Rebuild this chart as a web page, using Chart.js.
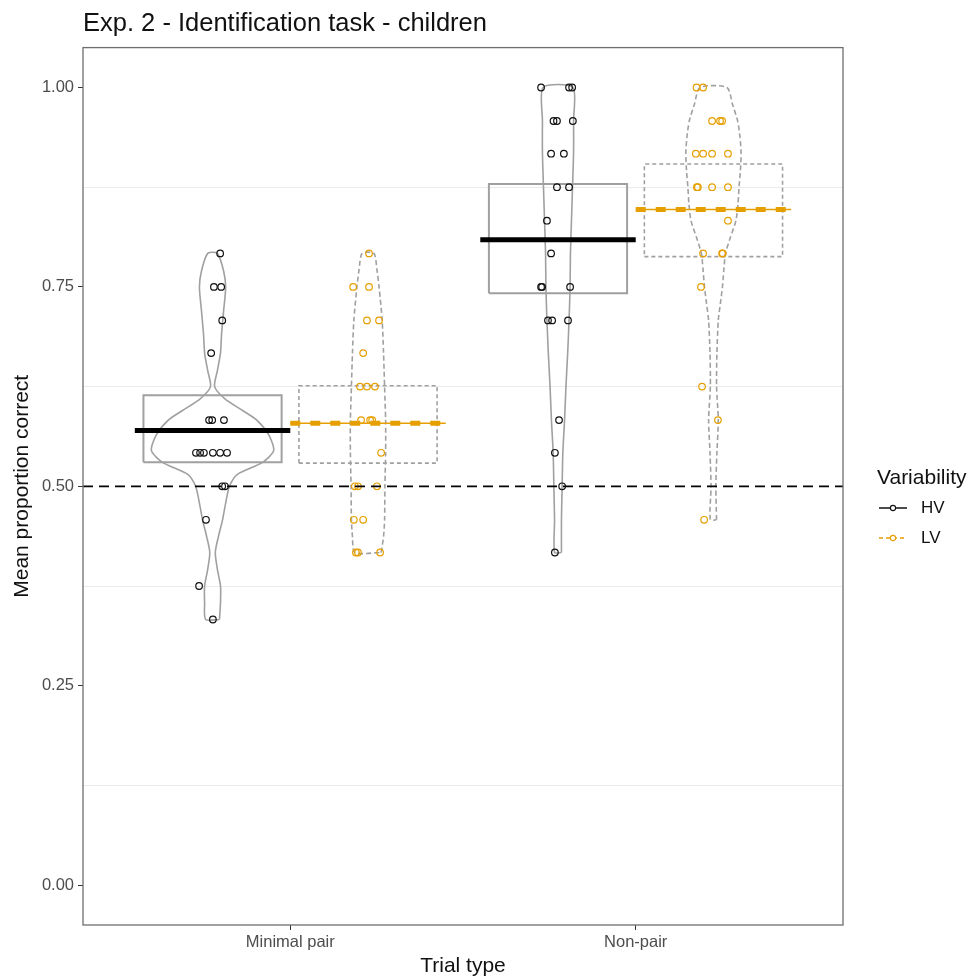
<!DOCTYPE html>
<html>
<head>
<meta charset="utf-8">
<title>Exp. 2 - Identification task - children</title>
<script src="https://cdn.jsdelivr.net/npm/chart.js@4.4.1/dist/chart.umd.min.js"></script>
<style>
  html, body { margin: 0; padding: 0; background: #fff; }
  #wrap { width: 971px; height: 980px; }
</style>
</head>
<body>
<div id="wrap"><canvas id="graph"></canvas></div>
<script>
// categories and axis ticks
var trialTypes = ['Minimal pair', 'Non-pair'];
var variability = ['HV', 'LV'];
var yTicks = [0, 0.25, 0.5, 0.75, 1];
var yMinorTicks = [0.125, 0.375, 0.625, 0.875];
var chanceLevel = 0.5;

// one dot per child: proportion correct, plus its horizontal jitter
var hvMinimalY = [0.792, 0.75, 0.75, 0.708, 0.667, 0.583, 0.583, 0.583, 0.542, 0.542, 0.542, 0.542, 0.542, 0.542, 0.5, 0.5, 0.458, 0.375, 0.333];
var hvMinimalJitter = [0.022, 0.004, 0.025, 0.028, -0.004, -0.010, -0.001, 0.033, -0.048, -0.036, -0.025, 0.001, 0.022, 0.042, 0.028, 0.036, -0.019, -0.039, 0.001];
var lvMinimalY = [0.792, 0.75, 0.75, 0.708, 0.708, 0.667, 0.625, 0.625, 0.625, 0.583, 0.583, 0.583, 0.542, 0.5, 0.5, 0.5, 0.458, 0.458, 0.417, 0.417, 0.417];
var lvMinimalJitter = [0.003, -0.043, 0.003, -0.003, 0.032, -0.014, -0.023, -0.003, 0.020, -0.020, 0.006, 0.012, 0.038, -0.038, -0.029, 0.026, -0.041, -0.014, -0.035, -0.029, 0.035];
var hvNonPairY = [1, 1, 1, 0.958, 0.958, 0.958, 0.917, 0.917, 0.875, 0.875, 0.833, 0.792, 0.75, 0.75, 0.75, 0.708, 0.708, 0.708, 0.583, 0.542, 0.5, 0.417];
var hvNonPairJitter = [-0.049, 0.032, 0.041, -0.013, -0.003, 0.043, -0.020, 0.017, -0.003, 0.032, -0.032, -0.020, -0.049, -0.046, 0.035, -0.029, -0.017, 0.029, 0.003, -0.009, 0.012, -0.009];
var lvNonPairY = [1, 1, 0.958, 0.958, 0.958, 0.917, 0.917, 0.917, 0.917, 0.875, 0.875, 0.875, 0.875, 0.833, 0.792, 0.792, 0.792, 0.75, 0.625, 0.583, 0.458];
var lvNonPairJitter = [-0.049, -0.030, -0.004, 0.019, 0.025, -0.051, -0.030, -0.004, 0.042, -0.048, -0.045, -0.004, 0.042, 0.042, -0.030, 0.025, 0.027, -0.036, -0.033, 0.013, -0.027];

// means and interval boxes, per trial type
var hvMeans = [0.570, 0.809];
var hvBoxLow = [0.530, 0.742];
var hvBoxHigh = [0.614, 0.879];
var lvMeans = [0.579, 0.847];
var lvBoxLow = [0.529, 0.788];
var lvBoxHigh = [0.626, 0.904];

// violin outlines: half-width of the density (x units) at each level
var hvMinimalLevels = [0.333, 0.354, 0.375, 0.396, 0.417, 0.437, 0.458, 0.479, 0.5, 0.515, 0.53, 0.545, 0.565, 0.583, 0.595, 0.61, 0.625, 0.645, 0.667, 0.69, 0.72, 0.75, 0.77, 0.792];
var hvMinimalDensity = [0.020, 0.023, 0.023, 0.014, 0.008, 0.017, 0.029, 0.038, 0.049, 0.072, 0.145, 0.177, 0.162, 0.128, 0.087, 0.035, 0.006, 0.014, 0.023, 0.026, 0.032, 0.038, 0.032, 0.014];
var lvMinimalLevels = [0.417, 0.437, 0.458, 0.5, 0.542, 0.583, 0.625, 0.667, 0.708, 0.75, 0.771, 0.792];
var lvMinimalDensity = [0.038, 0.045, 0.048, 0.049, 0.051, 0.051, 0.048, 0.045, 0.041, 0.032, 0.026, 0.017];
var hvNonPairLevels = [0.417, 0.458, 0.5, 0.542, 0.583, 0.625, 0.667, 0.708, 0.75, 0.792, 0.833, 0.875, 0.917, 0.958, 1];
var hvNonPairDensity = [0.010, 0.010, 0.012, 0.014, 0.019, 0.023, 0.028, 0.032, 0.035, 0.036, 0.039, 0.042, 0.045, 0.045, 0.043];
var lvNonPairLevels = [0.458, 0.5, 0.542, 0.583, 0.625, 0.667, 0.708, 0.729, 0.75, 0.771, 0.792, 0.812, 0.833, 0.854, 0.875, 0.896, 0.917, 0.937, 0.958, 0.979, 1];
var lvNonPairDensity = [0.009, 0.007, 0.010, 0.014, 0.009, 0.010, 0.014, 0.020, 0.026, 0.030, 0.035, 0.049, 0.065, 0.071, 0.074, 0.078, 0.080, 0.077, 0.070, 0.055, 0.039];

var ORANGE = '#E69F00';
var GREY = '#a0a0a0';
var FONT = "'Liberation Sans', Arial, sans-serif";
var DODGE = 0.225, BOX_HALF = 0.2, MEAN_HALF = 0.225;

function centre(cat, grp) { return cat + 1 + (grp === 0 ? -DODGE : DODGE); }

function dots(ys, jit, cx) {
  return ys.map(function (y, i) { return { x: cx + jit[i], y: y }; });
}

function violin(levels, dens, cx) {
  var right = levels.map(function (y, i) { return { x: cx + dens[i], y: y }; });
  var left = levels.map(function (y, i) { return { x: cx - dens[i], y: y }; }).reverse();
  return right.concat(left, [right[0]]);
}

function box(lo, hi, cx) {
  return [
    { x: cx - BOX_HALF, y: lo }, { x: cx + BOX_HALF, y: lo },
    { x: cx + BOX_HALF, y: hi }, { x: cx - BOX_HALF, y: hi },
    { x: cx - BOX_HALF, y: lo }
  ];
}

function bar(m, cx) { return [{ x: cx - MEAN_HALF, y: m }, { x: cx + MEAN_HALF, y: m }]; }

var lineBase = { type: 'line', pointRadius: 0, fill: false, tension: 0 };
var datasets = [];

var groupsData = [
  { cat: 0, grp: 0, ys: hvMinimalY, jit: hvMinimalJitter, lv: hvMinimalLevels, dn: hvMinimalDensity },
  { cat: 0, grp: 1, ys: lvMinimalY, jit: lvMinimalJitter, lv: lvMinimalLevels, dn: lvMinimalDensity },
  { cat: 1, grp: 0, ys: hvNonPairY, jit: hvNonPairJitter, lv: hvNonPairLevels, dn: hvNonPairDensity },
  { cat: 1, grp: 1, ys: lvNonPairY, jit: lvNonPairJitter, lv: lvNonPairLevels, dn: lvNonPairDensity }
];

groupsData.forEach(function (g) {
  var cx = centre(g.cat, g.grp);
  var hv = g.grp === 0;
  var lo = hv ? hvBoxLow[g.cat] : lvBoxLow[g.cat];
  var hi = hv ? hvBoxHigh[g.cat] : lvBoxHigh[g.cat];
  var m = hv ? hvMeans[g.cat] : lvMeans[g.cat];

  datasets.push(Object.assign({}, lineBase, {
    data: violin(g.lv, g.dn, cx), tension: 0.25,
    borderColor: GREY, borderWidth: 1.6, borderDash: hv ? [] : [5, 3], order: 5
  }));
  datasets.push(Object.assign({}, lineBase, {
    data: box(lo, hi, cx),
    borderColor: GREY, borderWidth: hv ? 2 : 1.6, borderDash: hv ? [] : [4, 3], order: 4
  }));
  datasets.push({
    type: 'scatter', data: dots(g.ys, g.jit, cx),
    pointRadius: 3.3, pointBorderWidth: 1.2,
    pointBackgroundColor: 'rgba(255,255,255,0)',
    pointBorderColor: hv ? '#111' : ORANGE, order: 3
  });
  if (!hv) {
    datasets.push(Object.assign({}, lineBase, {
      data: bar(m, cx), borderColor: ORANGE, borderWidth: 1.5, order: 1
    }));
  }
  datasets.push(Object.assign({}, lineBase, {
    data: bar(m, cx), borderColor: hv ? '#000' : ORANGE,
    borderWidth: 5, borderDash: hv ? [] : [10, 10], borderCapStyle: 'butt', order: 0
  }));
});

// chance line across the whole panel
datasets.push(Object.assign({}, lineBase, {
  data: [{ x: 0.4, y: chanceLevel }, { x: 2.6, y: chanceLevel }],
  borderColor: '#000', borderWidth: 1.8, borderDash: [10, 6], order: 2
}));

function isMajor(v) { return yTicks.some(function (t) { return Math.abs(t - v) < 1e-9; }); }

// panel border plus the "Variability" key on the right
var panelAndKey = {
  id: 'panelAndKey',
  afterDraw: function (chart) {
    var ctx = chart.ctx, a = chart.chartArea;
    ctx.save();
    ctx.strokeStyle = '#6e6e6e';
    ctx.lineWidth = 1.3;
    ctx.strokeRect(a.left, a.top, a.right - a.left, a.bottom - a.top);

    var x0 = a.right + 34;
    ctx.fillStyle = '#111';
    ctx.textBaseline = 'middle';
    ctx.font = '21px ' + FONT;
    ctx.fillText('Variability', x0, 478);

    var keys = [
      { label: variability[0], colour: '#111', dash: [], y: 508 },
      { label: variability[1], colour: ORANGE, dash: [4, 3], y: 538 }
    ];
    keys.forEach(function (k) {
      ctx.setLineDash(k.dash);
      ctx.strokeStyle = k.colour;
      ctx.lineWidth = 1.5;
      ctx.beginPath();
      ctx.moveTo(x0 + 2, k.y);
      ctx.lineTo(x0 + 30, k.y);
      ctx.stroke();
      ctx.setLineDash([]);
      ctx.fillStyle = '#fff';
      ctx.beginPath();
      ctx.arc(x0 + 16, k.y, 2.6, 0, Math.PI * 2);
      ctx.fill();
      ctx.lineWidth = 1.1;
      ctx.stroke();
      ctx.fillStyle = '#111';
      ctx.font = '17px ' + FONT;
      ctx.fillText(k.label, x0 + 44, k.y);
    });
    ctx.restore();
  }
};

var graph = document.getElementById('graph').getContext('2d');

var myChart = new Chart(graph, {
  type: 'scatter',
  data: { datasets: datasets },
  plugins: [panelAndKey],
  options: {
    responsive: true,
    maintainAspectRatio: false,
    animation: false,
    events: [],
    layout: { padding: { left: 0, right: 128, top: 0, bottom: 0 } },
    scales: {
      x: {
        type: 'linear',
        min: 0.4,
        max: 2.6,
        afterBuildTicks: function (scale) {
          scale.ticks = trialTypes.map(function (t, i) { return { value: i + 1 }; });
        },
        afterFit: function (scale) { scale.height = 55; },
        ticks: {
          color: '#4d4d4d',
          font: { family: FONT, size: 16.5 },
          padding: 3,
          maxRotation: 0,
          autoSkip: false,
          callback: function (v) { return trialTypes[Math.round(v) - 1]; }
        },
        grid: { drawOnChartArea: false, tickLength: 5, tickColor: '#333', color: '#333' },
        border: { display: false },
        title: {
          display: true,
          text: 'Trial type',
          color: '#111',
          font: { family: FONT, size: 21 },
          padding: { top: 0, bottom: 1 }
        }
      },
      y: {
        type: 'linear',
        min: -0.05,
        max: 1.05,
        afterBuildTicks: function (scale) {
          scale.ticks = yTicks.concat(yMinorTicks).sort(function (a, b) { return a - b; })
            .map(function (v) { return { value: v }; });
        },
        afterFit: function (scale) { scale.width = 83; },
        ticks: {
          color: '#4d4d4d',
          font: { family: FONT, size: 16.5 },
          padding: 4,
          autoSkip: false,
          callback: function (v) { return isMajor(v) ? v.toFixed(2) : ''; }
        },
        grid: {
          tickLength: 5,
          color: function (c) { return c.tick && isMajor(c.tick.value) ? 'rgba(0,0,0,0)' : '#ebebeb'; },
          tickColor: function (c) { return c.tick && isMajor(c.tick.value) ? '#333' : 'rgba(0,0,0,0)'; }
        },
        border: { display: false },
        title: {
          display: true,
          text: 'Mean proportion correct',
          color: '#111',
          font: { family: FONT, size: 21 },
          padding: { top: 10, bottom: 0 }
        }
      }
    },
    plugins: {
      legend: { display: false },
      tooltip: { enabled: false },
      title: {
        display: true,
        text: 'Exp. 2 - Identification task - children',
        align: 'start',
        fullSize: false,
        color: '#111',
        font: { family: FONT, size: 25.5, weight: 'normal' },
        padding: { top: 9, bottom: 8 }
      }
    }
  }
});
</script>
</body>
</html>
